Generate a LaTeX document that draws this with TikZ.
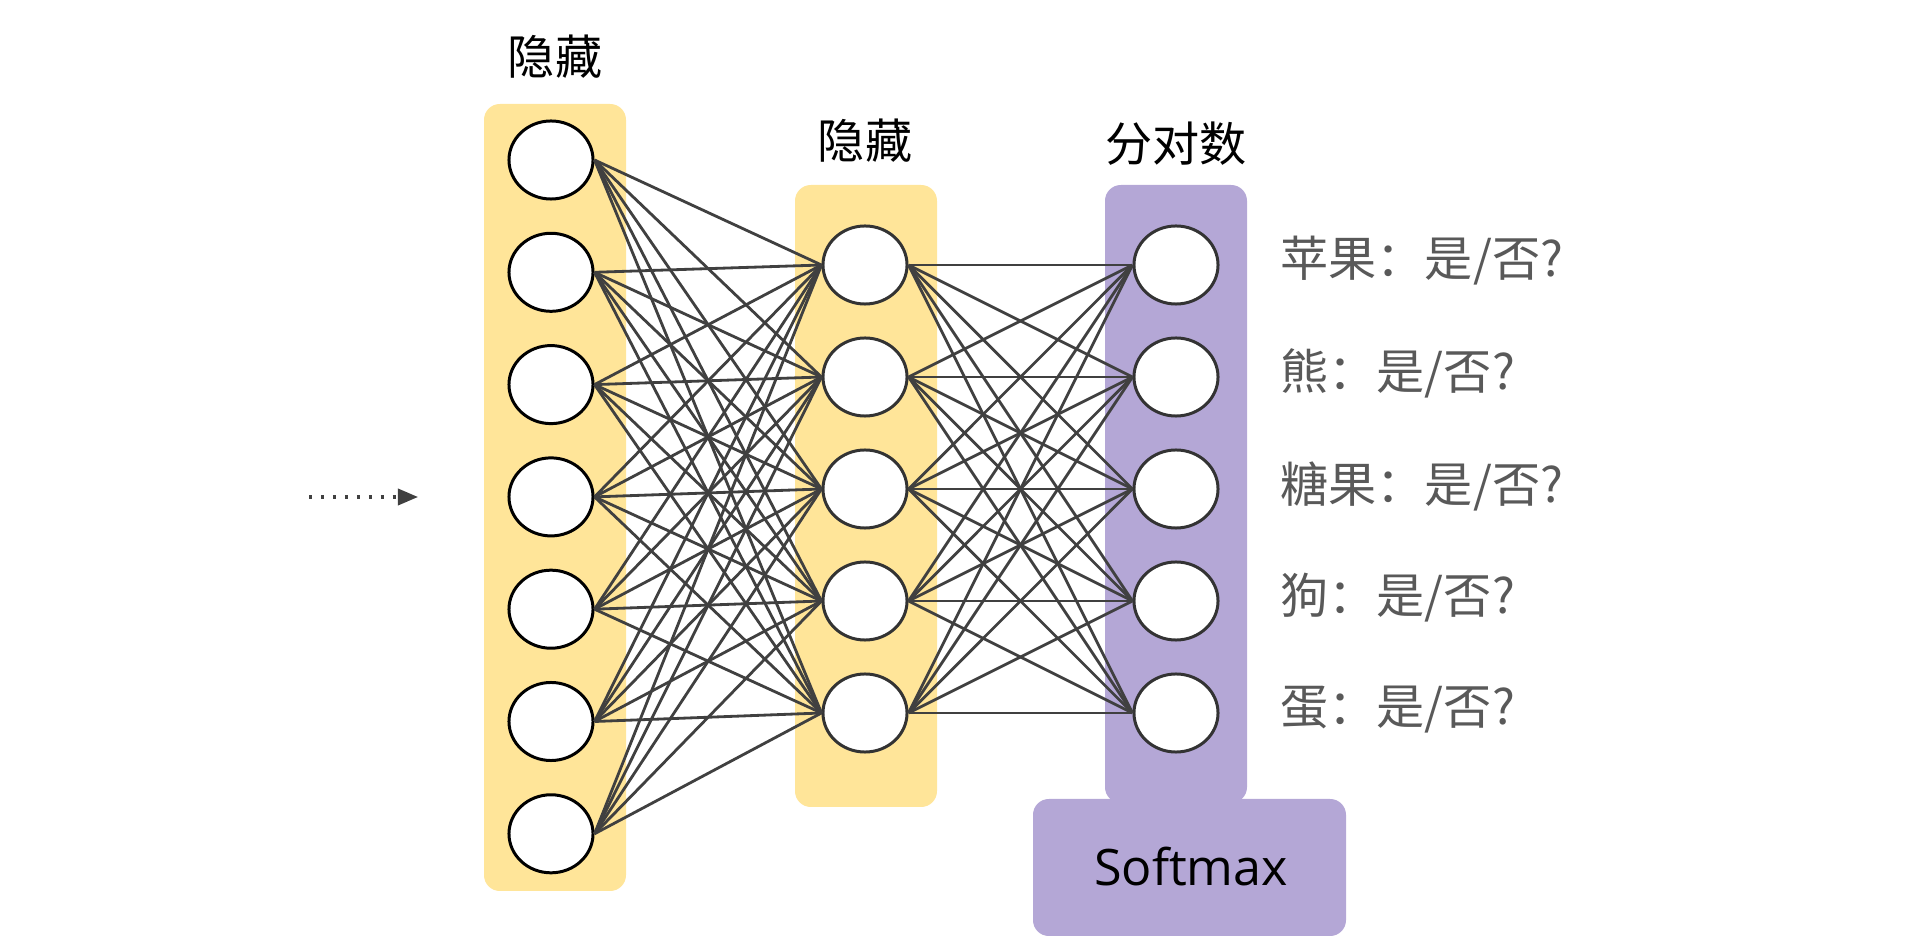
\documentclass[tikz,border=0pt]{standalone}
\usepackage{fontspec}
\setmainfont{Noto Sans CJK SC}
\newfontfamily\latinfont{Open Sans}
\usepackage{xcolor}
\usetikzlibrary{shapes,arrows.meta,positioning}

\definecolor{hiddenfill}{HTML}{FFE599}
\definecolor{logitfill}{HTML}{B4A7D6}
\definecolor{wiregray}{HTML}{404040}
\definecolor{answergray}{HTML}{595959}

\tikzset{
  unit/.style={ellipse, draw=#1, line width=0.85pt, fill=white,
    minimum width=0.84cm, minimum height=0.78cm, inner sep=0pt},
  unit/.default=black,
  wire/.style={draw=wiregray, line width=0.8pt},
  layertitle/.style={font=\fontsize{13.4pt}{16pt}\selectfont},
  answer/.style={anchor=west, text=answergray, font=\fontsize{13.7pt}{16pt}\selectfont},
}

\begin{document}
\begin{tikzpicture}[x=0.01cm, y=-0.01cm]
  \useasboundingbox (0,0) rectangle (1920,937);

  % Layer boxes
  \fill[hiddenfill, rounded corners=4.5pt] (484,104) rectangle (626,891);
  \fill[hiddenfill, rounded corners=4.5pt] (795,185) rectangle (937,807);
  \fill[logitfill, rounded corners=4.5pt] (1105,185) rectangle (1247,803);
  \fill[logitfill, rounded corners=4.5pt] (1033,799) rectangle (1346,936);

  % Units
  \foreach \i in {1,...,7}
    \node[unit] (A\i) at (551,{160+112.3*(\i-1)}) {};
  \foreach \i in {1,...,5} {
    \node[unit=black!80] (B\i) at (865,{265+112*(\i-1)}) {};
    \node[unit=black!80] (C\i) at (1176,{265+112*(\i-1)}) {};
  }

  % Connections
  \foreach \i in {1,...,7}
    \foreach \j in {1,...,5}
      \draw[wire] (A\i.east) -- (B\j.west);
  \foreach \i in {1,...,5}
    \foreach \j in {1,...,5}
      \draw[wire] (B\i.east) -- (C\j.west);

  % Input arrow
  \coordinate (src) at (309,497);
  \coordinate (dst) at (418,497);
  \draw[wiregray, line width=0.9pt, dash pattern=on 0.9pt off 2.5pt,
    -{Triangle[length=5.7pt, width=4.6pt]}] (src) -- (dst);

  % Titles
  \node[layertitle] (T1) at (555,57) {隐藏};
  \node[layertitle] (T2) at (865,141) {隐藏};
  \node[layertitle] (T3) at (1176,144) {分对数};
  \node[font=\latinfont\fontsize{14.3pt}{16pt}\selectfont] (SM) at (1191,867) {Softmax};

  % Answers
  \node[answer] (R1) at (1268,261) {苹果：是/否?};
  \node[answer] (R2) at (1268,373) {熊：是/否?};
  \node[answer] (R3) at (1268,486) {糖果：是/否?};
  \node[answer] (R4) at (1268,598) {狗：是/否?};
  \node[answer] (R5) at (1268,710) {蛋：是/否?};
\end{tikzpicture}
\end{document}
